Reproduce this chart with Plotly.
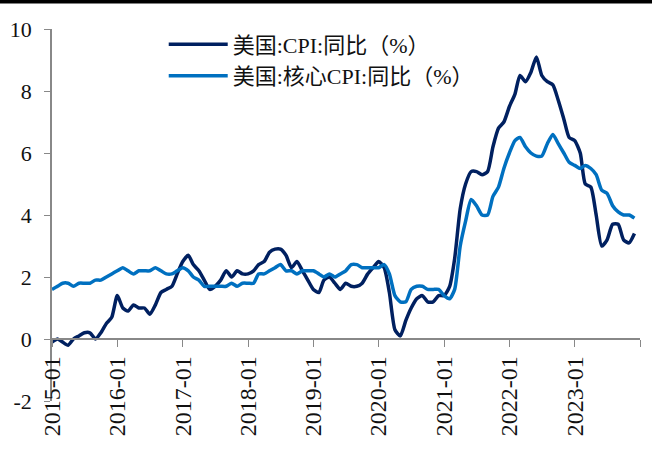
import plotly.graph_objects as go
import pandas as pd

months = pd.date_range("2015-01-01", "2023-12-01", freq="MS").strftime("%Y-%m-%d").tolist()

cpi = [
    -0.1, 0.0, -0.1, -0.2, 0.0, 0.1, 0.2, 0.2, 0.0, 0.2, 0.5, 0.7,
    1.4, 1.0, 0.9, 1.1, 1.0, 1.0, 0.8, 1.1, 1.5, 1.6, 1.7, 2.1,
    2.5, 2.7, 2.4, 2.2, 1.9, 1.6, 1.7, 1.9, 2.2, 2.0, 2.2, 2.1,
    2.1, 2.2, 2.4, 2.5, 2.8, 2.9, 2.9, 2.7, 2.3, 2.5, 2.2, 1.9,
    1.6, 1.5, 1.9, 2.0, 1.8, 1.6, 1.8, 1.7, 1.7, 1.8, 2.1, 2.3,
    2.5, 2.3, 1.5, 0.3, 0.1, 0.6, 1.0, 1.3, 1.4, 1.2, 1.2, 1.4,
    1.4, 1.7, 2.6, 4.2, 5.0, 5.4, 5.4, 5.3, 5.4, 6.2, 6.8, 7.0,
    7.5, 7.9, 8.5, 8.3, 8.6, 9.1, 8.5, 8.3, 8.2, 7.7, 7.1, 6.5,
    6.4, 6.0, 5.0, 4.9, 4.0, 3.0, 3.2, 3.7, 3.7, 3.2, 3.1, 3.4,
]

core_cpi = [
    1.6, 1.7, 1.8, 1.8, 1.7, 1.8, 1.8, 1.8, 1.9, 1.9, 2.0, 2.1,
    2.2, 2.3, 2.2, 2.1, 2.2, 2.2, 2.2, 2.3, 2.2, 2.1, 2.1, 2.2,
    2.3, 2.2, 2.0, 1.9, 1.7, 1.7, 1.7, 1.7, 1.7, 1.8, 1.7, 1.8,
    1.8, 1.8, 2.1, 2.1, 2.2, 2.3, 2.4, 2.2, 2.2, 2.1, 2.2, 2.2,
    2.2, 2.1, 2.0, 2.1, 2.0, 2.1, 2.2, 2.4, 2.4, 2.3, 2.3, 2.3,
    2.3, 2.4, 2.1, 1.4, 1.2, 1.2, 1.6, 1.7, 1.7, 1.6, 1.6, 1.6,
    1.4, 1.3, 1.6, 3.0, 3.8, 4.5, 4.3, 4.0, 4.0, 4.6, 4.9, 5.5,
    6.0, 6.4, 6.5, 6.2, 6.0, 5.9, 5.9, 6.3, 6.6, 6.3, 6.0, 5.7,
    5.6, 5.5, 5.6, 5.5, 5.3, 4.8, 4.7, 4.3, 4.1, 4.0, 4.0, 3.9,
]

series_names = ["美国:CPI:同比（%）", "美国:核心CPI:同比（%）"]
colors = ["#002060", "#0070C0"]

y_tickvals = [-2, 0, 2, 4, 6, 8, 10]
y_ticktext = ["-2", "0", "2", "4", "6", "8", "10"]

W, H = 652, 453
L, R, T, B = 52, 12, 29, 52
y_range = [-2, 10]
PH = H - T - B

fig = go.Figure()
for i, (name, vals) in enumerate(zip(series_names, [cpi, core_cpi])):
    fig.add_trace(go.Scatter(
        x=months, y=vals, mode="lines", name=name,
        line=dict(color=colors[i], width=3.5, shape="spline", smoothing=0.6),
        legendgroup=f"g{i}",
    ))

serif = "Liberation Serif, Times New Roman, serif"
fig.update_layout(
    width=W, height=H,
    margin=dict(l=L, r=R, t=T, b=B, autoexpand=False),
    paper_bgcolor="white", plot_bgcolor="white",
    showlegend=True,
    legend=dict(
        x=0.19, y=1.015, xanchor="left", yanchor="top",
        font=dict(family="Liberation Serif, Noto Sans CJK SC", size=22, color="#111"),
        bgcolor="rgba(0,0,0,0)", itemwidth=59, tracegroupgap=0,
    ),
    xaxis=dict(
        type="date", range=["2015-01-01", "2024-01-01"],
        tick0="2015-01-01", dtick="M12", tickformat="%Y-%m",
        tickangle=-90, ticks="outside", ticklen=7, tickcolor="#888",
        showline=True, linecolor="#888", linewidth=1.5,
        showgrid=False, zeroline=False, automargin=False,
        anchor="free", position=(0 - y_range[0]) / (y_range[1] - y_range[0]),
        tickfont=dict(family=serif, size=24, color="#111"),
    ),
    yaxis=dict(
        range=y_range, tickvals=y_tickvals, ticktext=y_ticktext,
        ticks="outside", ticklen=6, tickcolor="#888", ticklabelstandoff=8,
        showline=True, linecolor="#888", linewidth=1.5,
        showgrid=False, zeroline=False, automargin=False,
        tickfont=dict(family=serif, size=22, color="#111"),
    ),
    shapes=[
        dict(
            type="rect", xref="paper", yref="paper",
            x0=-L / (W - L - R), x1=1 + R / (W - L - R),
            y0=1 + (T - 3.5) / PH, y1=1 + T / PH,
            fillcolor="black", line=dict(width=0), layer="above",
        ),
    ],
)

fig.write_html(
    "out.html",
    config={"displayModeBar": False},
    post_script=(
        "document.body.style.margin='0';document.body.style.overflow='hidden';"
        "var bar=document.createElement('div');"
        "bar.style.cssText='position:fixed;left:0;top:0;width:100%;height:3px;"
        "background:#000;z-index:10000;pointer-events:none;';"
        "document.body.appendChild(bar);"
    ),
)
